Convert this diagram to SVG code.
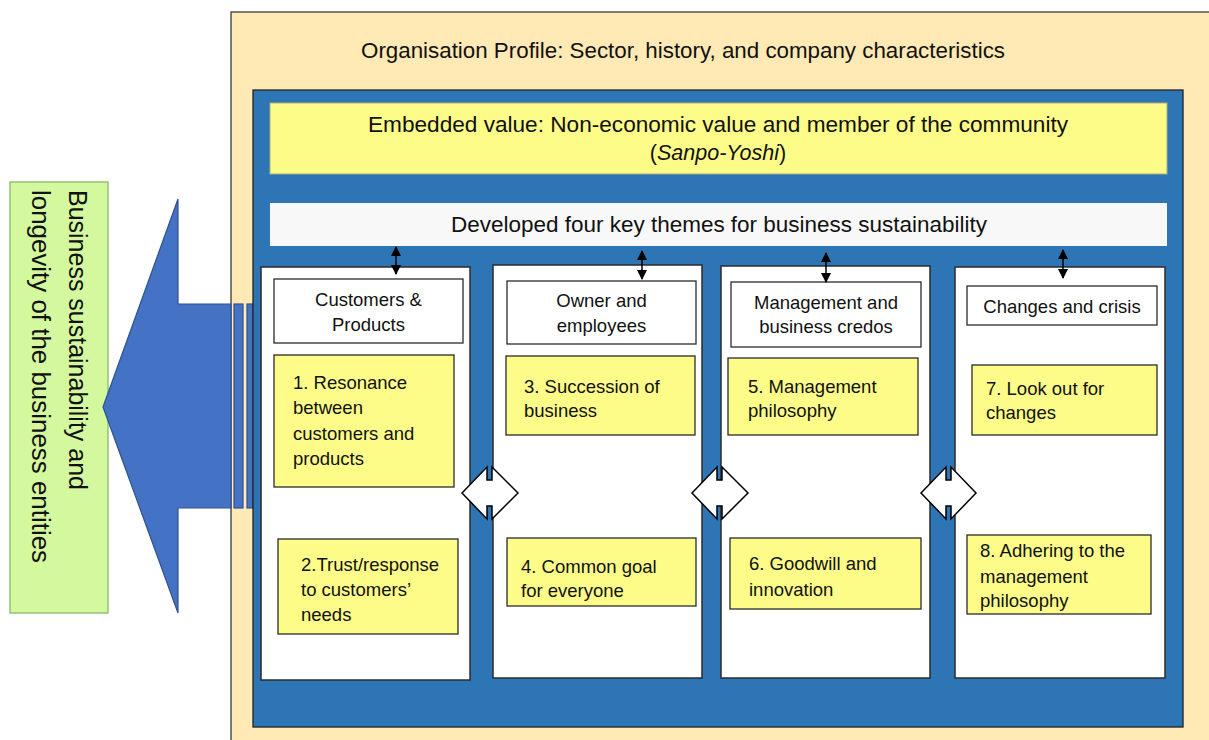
<svg xmlns="http://www.w3.org/2000/svg" width="1209" height="740" viewBox="0 0 1209 740">
  <style>
    .t { font-family: "Liberation Sans", Arial, sans-serif; fill: #111; }
    .big { font-size: 21.5px; }
    .hd { font-size: 18.5px; text-anchor: middle; }
    .it { font-size: 18.5px; }
    .panel { fill: #ffffff; stroke: #2b2b2b; stroke-width: 1.5; }
    .head { fill: #ffffff; stroke: #2b2b2b; stroke-width: 1.3; }
    .note { fill: #fdfc88; stroke: #2b2b2b; stroke-width: 1.3; }
    .link { stroke: #000; stroke-width: 1.5; fill: none; marker-start: url(#tip); marker-end: url(#tip); }
    .swap { fill: #ffffff; stroke: #000; stroke-width: 1.5; stroke-linejoin: miter; }
  </style>
  <defs>
    <marker id="tip" viewBox="0 0 10 10" refX="9" refY="5" markerWidth="7" markerHeight="7" orient="auto-start-reverse" markerUnits="strokeWidth">
      <path d="M0,0 L10,5 L0,10 Z" fill="#000"/>
    </marker>
  </defs>

  <rect width="1209" height="740" fill="#ffffff"/>

  <!-- outer frame: organisation profile -->
  <g id="profile">
    <rect x="231" y="12" width="1000" height="760" fill="#ffe9b4" stroke="#3a3a3a" stroke-width="1.3"/>
    <text class="t big" x="683" y="58" text-anchor="middle" textLength="644" lengthAdjust="spacingAndGlyphs">Organisation Profile: Sector, history, and company characteristics</text>
  </g>

  <!-- outcome box -->
  <g id="outcome">
    <rect x="10" y="182" width="98" height="431" fill="#d4f89e" stroke="#88b868" stroke-width="1.3"/>
    <text class="t" font-size="25.5" transform="translate(68.5,190) rotate(90)" textLength="300" lengthAdjust="spacingAndGlyphs">Business sustainability and</text>
    <text class="t" font-size="25.5" transform="translate(31.5,190) rotate(90)" textLength="373" lengthAdjust="spacingAndGlyphs">longevity of the business entities</text>
  </g>

  <!-- striped arrow pointing to the outcome -->
  <g id="flow-arrow" fill="#4472c4" stroke="#2f528f" stroke-width="1.2">
    <path d="M103,407 L178,199 L178,304 L231,304 L231,508 L178,508 L178,613 Z"/>
    <rect x="234" y="304" width="9" height="204"/>
    <rect x="247" y="304" width="6" height="204"/>
  </g>

  <!-- inner blue frame -->
  <g id="frame">
    <rect x="253" y="90" width="930" height="637" fill="#2e75b6" stroke="#222" stroke-width="1.3"/>
  </g>

  <g id="embedded-value">
    <rect x="270" y="103" width="897" height="71" fill="#fdfc88" stroke="#a9b07a" stroke-width="1"/>
    <text class="t big" x="718" y="132" text-anchor="middle" textLength="700" lengthAdjust="spacingAndGlyphs">Embedded value: Non-economic value and member of the community</text>
    <text class="t big" x="718" y="160" text-anchor="middle">(<tspan font-style="italic">Sanpo-Yoshi</tspan>)</text>
  </g>

  <g id="themes">
    <rect x="270" y="203" width="897" height="43" fill="#f8f8f8"/>
    <text class="t big" x="719" y="232" text-anchor="middle" textLength="536" lengthAdjust="spacingAndGlyphs">Developed four key themes for business sustainability</text>
  </g>

  <!-- column 1 -->
  <g id="customers-products">
    <rect class="panel" x="261" y="267" width="209" height="413"/>
    <rect class="head" x="274" y="279" width="189" height="64"/>
    <text class="t hd" x="368.5" y="306">Customers &amp;</text>
    <text class="t hd" x="368.5" y="331">Products</text>
  </g>
  <g id="theme-1">
    <rect class="note" x="274" y="355" width="180" height="132"/>
    <text class="t it" x="293" y="389">1. Resonance</text>
    <text class="t it" x="293" y="414">between</text>
    <text class="t it" x="293" y="440">customers and</text>
    <text class="t it" x="293" y="465">products</text>
  </g>
  <g id="theme-2">
    <rect class="note" x="278" y="539" width="180" height="95"/>
    <text class="t it" x="301" y="571">2.Trust/response</text>
    <text class="t it" x="301" y="596">to customers’</text>
    <text class="t it" x="301" y="621">needs</text>
  </g>

  <!-- column 2 -->
  <g id="owner-employees">
    <rect class="panel" x="493" y="265" width="209" height="413"/>
    <rect class="head" x="507" y="281" width="189" height="63"/>
    <text class="t hd" x="601.5" y="307">Owner and</text>
    <text class="t hd" x="601.5" y="332">employees</text>
  </g>
  <g id="theme-3">
    <rect class="note" x="506" y="356" width="189" height="79"/>
    <text class="t it" x="524" y="393">3. Succession of</text>
    <text class="t it" x="524" y="417">business</text>
  </g>
  <g id="theme-4">
    <rect class="note" x="507" y="538" width="189" height="68"/>
    <text class="t it" x="521" y="573">4. Common goal</text>
    <text class="t it" x="521" y="597">for everyone</text>
  </g>

  <!-- column 3 -->
  <g id="management-credos">
    <rect class="panel" x="721" y="266" width="209" height="412"/>
    <rect class="head" x="731" y="282" width="190" height="65"/>
    <text class="t hd" x="826" y="309">Management and</text>
    <text class="t hd" x="826" y="333">business credos</text>
  </g>
  <g id="theme-5">
    <rect class="note" x="728" y="358" width="190" height="77"/>
    <text class="t it" x="748" y="393">5. Management</text>
    <text class="t it" x="748" y="417">philosophy</text>
  </g>
  <g id="theme-6">
    <rect class="note" x="730" y="538" width="191" height="71"/>
    <text class="t it" x="749" y="570">6. Goodwill and</text>
    <text class="t it" x="749" y="596">innovation</text>
  </g>

  <!-- column 4 -->
  <g id="changes-crisis">
    <rect class="panel" x="955" y="267" width="210" height="411"/>
    <rect class="head" x="967" y="286" width="190" height="39"/>
    <text class="t hd" x="1062" y="313">Changes and crisis</text>
  </g>
  <g id="theme-7">
    <rect class="note" x="972" y="365" width="185" height="70"/>
    <text class="t it" x="986" y="395">7. Look out for</text>
    <text class="t it" x="986" y="419">changes</text>
  </g>
  <g id="theme-8">
    <rect class="note" x="967" y="535" width="184" height="79"/>
    <text class="t it" x="980" y="557">8. Adhering to the</text>
    <text class="t it" x="980" y="583">management</text>
    <text class="t it" x="980" y="607">philosophy</text>
  </g>

  <!-- connectors -->
  <g id="connectors">
    <line class="link" x1="396" y1="247" x2="396" y2="274"/>
    <line class="link" x1="642" y1="251" x2="642" y2="279"/>
    <line class="link" x1="826" y1="253" x2="826" y2="282"/>
    <line class="link" x1="1063" y1="250" x2="1063" y2="278"/>

    <path class="swap" d="M462,493 L487,467 L487,480 L492,480 L492,467 L518,493 L492,519 L492,506 L487,506 L487,519 Z"/>
    <path class="swap" d="M692,493 L717,467 L717,480 L722,480 L722,467 L748,493 L722,519 L722,506 L717,506 L717,519 Z"/>
    <path class="swap" d="M921,493 L946,467 L946,480 L951,480 L951,467 L976,493 L951,519 L951,506 L946,506 L946,519 Z"/>
  </g>
</svg>
